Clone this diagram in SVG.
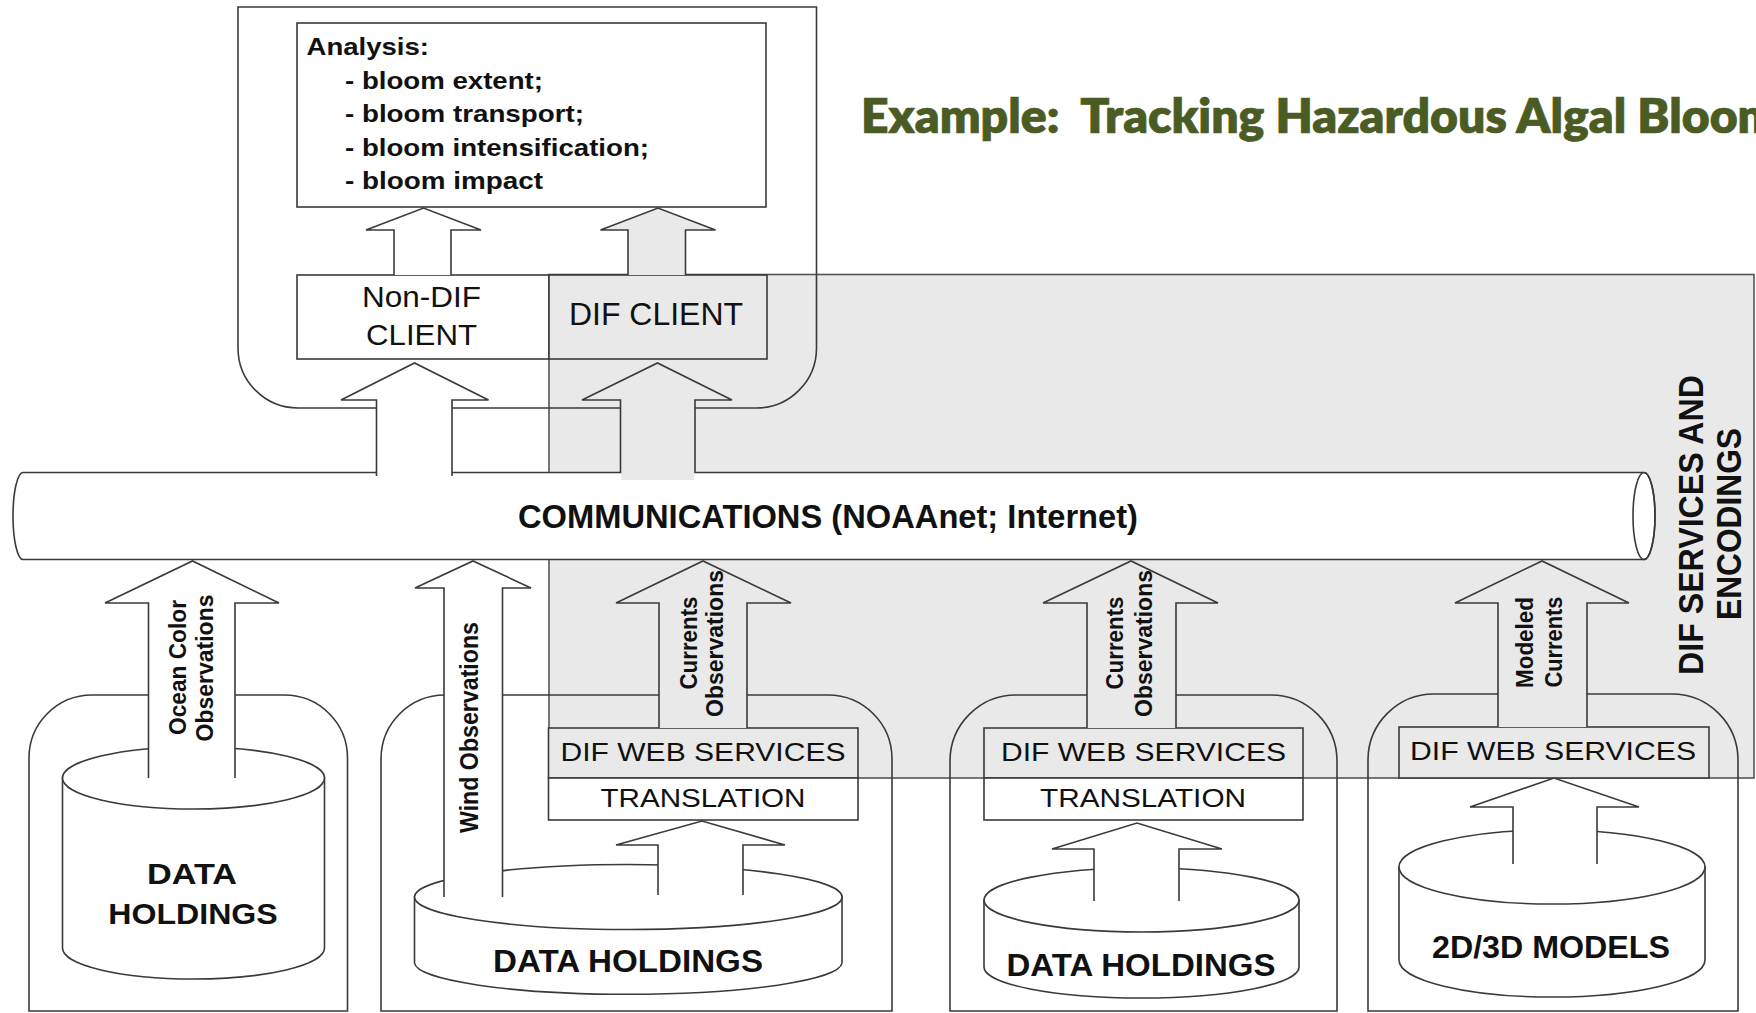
<svg xmlns="http://www.w3.org/2000/svg" width="1756" height="1013" viewBox="0 0 1756 1013">
  <style>
    .ln { fill: none; stroke: #3a3a3a; stroke-width: 1.6; }
    .wf { fill: #ffffff; stroke: #3a3a3a; stroke-width: 1.6; }
    .gf { fill: #e9e9e9; stroke: #3a3a3a; stroke-width: 1.6; }
    .zone { fill: #e9e9e9; stroke: #555555; stroke-width: 1.6; }
    .b { font-family: "Liberation Sans", Arial, sans-serif; font-weight: bold; fill: #111111; }
    .r { font-family: "Liberation Sans", Arial, sans-serif; font-weight: normal; fill: #111111; }
    .m { text-anchor: middle; }
    .title { font-family: Lato, "Open Sans", sans-serif; font-weight: 800; fill: #4a5c24; stroke: #4a5c24; stroke-width: 0.7; font-size: 47px; white-space: pre; }
  </style>

  <!-- title -->
  <text class="title" x="861" y="133" textLength="939" lengthAdjust="spacingAndGlyphs" xml:space="preserve">Example:  Tracking Hazardous Algal Blooms</text>

  <!-- shaded DIF services and encodings zone -->
  <g id="dif-zone">
    <rect class="zone" x="549" y="274.5" width="1205" height="503.5"/>
    <text class="b m" font-size="35" x="1703" y="525" transform="rotate(-90 1703 525)" textLength="300" lengthAdjust="spacingAndGlyphs">DIF SERVICES AND</text>
    <text class="b m" font-size="35" x="1741" y="524" transform="rotate(-90 1741 524)" textLength="192" lengthAdjust="spacingAndGlyphs">ENCODINGS</text>
  </g>

  <!-- rounded enclosures -->
  <g id="client-site">
    <path class="ln" d="M238,7 H816.5 V348 A60,60 0 0 1 756.5,408 H298 A60,60 0 0 1 238,348 Z"/>
  </g>
  <g id="site-ocean-color">
    <path class="ln" d="M29,1011 V758 A63,63 0 0 1 92,695 H284.5 A63,63 0 0 1 347.5,758 V1011 Z"/>
  </g>
  <g id="site-wind-currents">
    <path class="ln" d="M381,1011 V759 A64,64 0 0 1 445,695 H828 A64,64 0 0 1 892,759 V1011 Z"/>
  </g>
  <g id="site-currents">
    <path class="ln" d="M950,1011 V761 A66,66 0 0 1 1016,695 H1271 A66,66 0 0 1 1337,761 V1011 Z"/>
  </g>
  <g id="site-models">
    <path class="ln" d="M1368,1011 V760 A66,66 0 0 1 1434,694 H1672 A66,66 0 0 1 1738,760 V1011 Z"/>
  </g>

  <!-- communications pipe -->
  <g id="communications">
    <path class="wf" d="M23,472.5 H1644 A11,43.5 0 0 1 1644,559.5 H23 A10,43.5 0 0 1 23,472.5 Z"/>
    <ellipse class="ln" cx="1644" cy="516" rx="11" ry="43.5"/>
    <text class="b" font-size="32.5" x="518" y="528" textLength="620" lengthAdjust="spacingAndGlyphs">COMMUNICATIONS (NOAAnet; Internet)</text>
  </g>

  <!-- client side -->
  <g id="analysis">
    <rect class="wf" x="297" y="23" width="469" height="184"/>
    <text class="b" font-size="24.5" x="306.5" y="55" textLength="122.5" lengthAdjust="spacingAndGlyphs">Analysis:</text>
    <text class="b" font-size="24.5" x="345" y="88.5" textLength="198" lengthAdjust="spacingAndGlyphs">- bloom extent;</text>
    <text class="b" font-size="24.5" x="345" y="122" textLength="239" lengthAdjust="spacingAndGlyphs">- bloom transport;</text>
    <text class="b" font-size="24.5" x="345" y="155.5" textLength="304" lengthAdjust="spacingAndGlyphs">- bloom intensification;</text>
    <text class="b" font-size="24.5" x="345" y="189" textLength="198" lengthAdjust="spacingAndGlyphs">- bloom impact</text>
  </g>
  <g id="non-dif-client">
    <rect class="wf" x="297" y="275" width="252" height="84"/>
    <text class="r m" font-size="30" x="421.5" y="306.5" textLength="119" lengthAdjust="spacingAndGlyphs">Non-DIF</text>
    <text class="r m" font-size="30" x="421.5" y="345" textLength="111" lengthAdjust="spacingAndGlyphs">CLIENT</text>
  </g>
  <g id="dif-client">
    <rect class="gf" x="549" y="275" width="218" height="84"/>
    <text class="r m" font-size="32" x="656" y="325" textLength="174" lengthAdjust="spacingAndGlyphs">DIF CLIENT</text>
  </g>

  <!-- service boxes -->
  <g id="web-services-1">
    <rect class="gf" x="548.5" y="728" width="309.5" height="50"/>
    <text class="r m" font-size="26.5" x="703" y="761" textLength="285" lengthAdjust="spacingAndGlyphs">DIF WEB SERVICES</text>
  </g>
  <g id="translation-1">
    <rect class="wf" x="548.5" y="778" width="309.5" height="42"/>
    <text class="r m" font-size="26.5" x="703" y="807" textLength="205" lengthAdjust="spacingAndGlyphs">TRANSLATION</text>
  </g>
  <g id="web-services-2">
    <rect class="gf" x="984" y="728" width="319" height="50"/>
    <text class="r m" font-size="26.5" x="1143.5" y="761" textLength="285" lengthAdjust="spacingAndGlyphs">DIF WEB SERVICES</text>
  </g>
  <g id="translation-2">
    <rect class="wf" x="984" y="778" width="319" height="42"/>
    <text class="r m" font-size="26.5" x="1143" y="807" textLength="206" lengthAdjust="spacingAndGlyphs">TRANSLATION</text>
  </g>
  <g id="web-services-3">
    <rect class="gf" x="1399" y="727" width="310" height="51"/>
    <text class="r m" font-size="26.5" x="1553" y="760" textLength="286" lengthAdjust="spacingAndGlyphs">DIF WEB SERVICES</text>
  </g>

  <!-- data stores -->
  <g id="holdings-1">
    <path class="wf" d="M62.5,778 V948 A131,31 0 0 0 324.5,948 V778 Z"/>
    <ellipse class="wf" cx="193.5" cy="778" rx="131" ry="31"/>
    <text class="b m" font-size="30" x="192" y="884" textLength="90" lengthAdjust="spacingAndGlyphs">DATA</text>
    <text class="b m" font-size="30" x="193" y="924" textLength="169.5" lengthAdjust="spacingAndGlyphs">HOLDINGS</text>
  </g>
  <g id="holdings-2">
    <path class="wf" d="M414.5,897 V963 A213.8,32 0 0 0 842,963 V897 Z"/>
    <ellipse class="wf" cx="628.3" cy="897" rx="213.8" ry="32.5"/>
    <text class="b m" font-size="30.5" x="628" y="971.5" textLength="270" lengthAdjust="spacingAndGlyphs">DATA HOLDINGS</text>
  </g>
  <g id="holdings-3">
    <path class="wf" d="M984,900 V967 A157.5,31 0 0 0 1299,967 V900 Z"/>
    <ellipse class="wf" cx="1141.5" cy="900" rx="157.5" ry="32"/>
    <text class="b m" font-size="30.5" x="1141" y="975.5" textLength="269" lengthAdjust="spacingAndGlyphs">DATA HOLDINGS</text>
  </g>
  <g id="models">
    <path class="wf" d="M1399,867 V960 A153,37 0 0 0 1705,960 V867 Z"/>
    <ellipse class="wf" cx="1552" cy="867" rx="153" ry="37"/>
    <text class="b m" font-size="31" x="1551" y="957.5" textLength="238" lengthAdjust="spacingAndGlyphs">2D/3D MODELS</text>
  </g>

  <!-- block arrows (bottom edge left open) -->
  <g id="connectors">
    <path class="wf" d="M394,275 V230 H366 L423.5,208 L481,230 H451 V275"/>
    <path class="gf" d="M628,275 V230 H600.5 L658,208 L715.5,230 H685.5 V275"/>
    <path class="wf" d="M376.5,476 V400 H341 L414.5,363 L488.5,400 H452 V476"/>
    <rect x="621.3" y="472" width="72.9" height="8" fill="#e9e9e9"/>
    <path class="gf" d="M620.5,473 V400 H582 L657.5,363 L732,400 H695 V473"/>

    <path class="wf" d="M148.5,778 V603 H105 L192.5,561 L279,603 H235 V778"/>
    <path class="wf" d="M444,897 V588 H415 L473,561 L531,588 H502.5 V897"/>
    <path class="gf" d="M659,728 V603 H616 L703,561 L791,603 H747 V728"/>
    <path class="gf" d="M1087,728 V603 H1043 L1131,561 L1218,603 H1176 V728"/>
    <path class="gf" d="M1498,727 V603 H1455 L1542,561 L1629,603 H1587 V727"/>

    <path class="wf" d="M658,895 V845 H616 L702,821 L785,845 H743 V895"/>
    <path class="wf" d="M1094,901 V849 H1052 L1137,823 L1222,849 H1179 V901"/>
    <path class="wf" d="M1513,864 V807 H1470 L1554,778 L1639,807 H1597 V864"/>

    <text class="b m" font-size="24" x="185.5" y="667.5" transform="rotate(-90 185.5 667.5)" textLength="135" lengthAdjust="spacingAndGlyphs">Ocean Color</text>
    <text class="b m" font-size="24" x="213" y="668" transform="rotate(-90 213 668)" textLength="147" lengthAdjust="spacingAndGlyphs">Observations</text>
    <text class="b m" font-size="25" x="478" y="727.5" transform="rotate(-90 478 727.5)" textLength="211" lengthAdjust="spacingAndGlyphs">Wind Observations</text>
    <text class="b m" font-size="24" x="697" y="643" transform="rotate(-90 697 643)" textLength="93" lengthAdjust="spacingAndGlyphs">Currents</text>
    <text class="b m" font-size="24" x="723" y="643.5" transform="rotate(-90 723 643.5)" textLength="147" lengthAdjust="spacingAndGlyphs">Observations</text>
    <text class="b m" font-size="24" x="1123" y="643" transform="rotate(-90 1123 643)" textLength="93" lengthAdjust="spacingAndGlyphs">Currents</text>
    <text class="b m" font-size="24" x="1152" y="643.5" transform="rotate(-90 1152 643.5)" textLength="147" lengthAdjust="spacingAndGlyphs">Observations</text>
    <text class="b m" font-size="23" x="1533" y="642.5" transform="rotate(-90 1533 642.5)" textLength="91" lengthAdjust="spacingAndGlyphs">Modeled</text>
    <text class="b m" font-size="23" x="1562" y="642" transform="rotate(-90 1562 642)" textLength="91" lengthAdjust="spacingAndGlyphs">Currents</text>
  </g>
</svg>
